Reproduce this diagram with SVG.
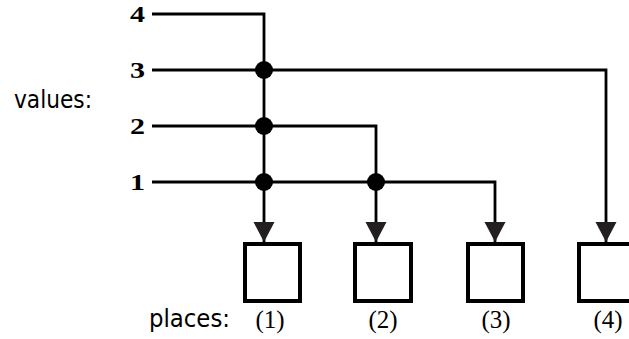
<svg xmlns="http://www.w3.org/2000/svg" width="629" height="339" viewBox="0 0 629 339">
<defs>
<style>
.wire{fill:none;stroke:#000;stroke-width:2.8;stroke-linejoin:miter}
.dot{fill:#000}
.box{fill:#fff;stroke:#000;stroke-width:4}
.num{font-family:"Liberation Serif","Times New Roman",serif;font-weight:bold;font-size:24px;fill:#000;text-anchor:end}
.lbl{font-family:"DejaVu Sans","Liberation Sans",sans-serif;font-size:24px;fill:#000}
.plc{font-family:"Liberation Serif","Times New Roman",serif;font-size:25px;fill:#000;text-anchor:middle}
</style>
<marker id="arr" markerWidth="22" markerHeight="22" refX="20" refY="10.5" orient="auto" markerUnits="userSpaceOnUse">
<path d="M0,0 L20,10.5 L0,21 Z" fill="#231f20"/>
</marker>
</defs>
<rect width="629" height="339" fill="#fff"/>
<g id="connectors">
<path class="wire" d="M152,14 H264 V242" marker-end="url(#arr)"/>
<path class="wire" d="M152,70 H606 V242" marker-end="url(#arr)"/>
<path class="wire" d="M152,126 H376 V242" marker-end="url(#arr)"/>
<path class="wire" d="M152,182 H495 V242" marker-end="url(#arr)"/>
<circle class="dot" cx="264" cy="70" r="9"/>
<circle class="dot" cx="264" cy="126" r="9"/>
<circle class="dot" cx="264" cy="182" r="9"/>
<circle class="dot" cx="376" cy="182" r="9"/>
</g>
<g id="value4"><text class="num" transform="translate(145,22) scale(1.25,1)">4</text></g>
<g id="value3"><text class="num" transform="translate(145,78) scale(1.25,1)">3</text></g>
<g id="value2"><text class="num" transform="translate(145,134) scale(1.25,1)">2</text></g>
<g id="value1"><text class="num" transform="translate(145,190) scale(1.25,1)">1</text></g>
<g id="values-label"><text class="lbl" x="14" y="108" textLength="78" lengthAdjust="spacingAndGlyphs">values:</text></g>
<g id="place1"><rect class="box" x="245" y="244" width="55" height="57"/><text class="plc" x="270" y="328">(1)</text></g>
<g id="place2"><rect class="box" x="355" y="244" width="56" height="57"/><text class="plc" x="383" y="328">(2)</text></g>
<g id="place3"><rect class="box" x="468" y="244" width="55" height="57"/><text class="plc" x="496" y="328">(3)</text></g>
<g id="place4"><rect class="box" x="579" y="244" width="55" height="57"/><text class="plc" x="608" y="328">(4)</text></g>
<g id="places-label"><text class="lbl" x="149" y="327" textLength="81" lengthAdjust="spacingAndGlyphs">places:</text></g>
</svg>
